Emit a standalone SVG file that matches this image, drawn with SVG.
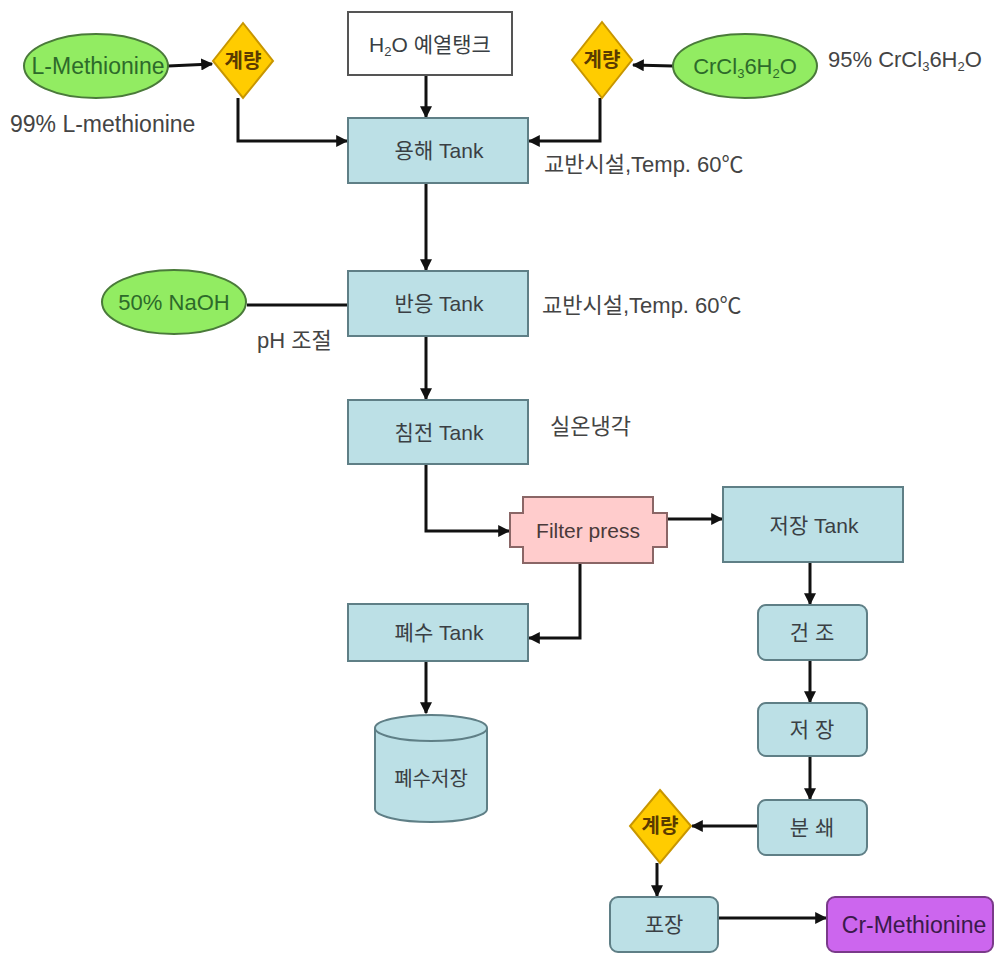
<svg xmlns="http://www.w3.org/2000/svg" width="995" height="953" viewBox="0 0 995 953">
<defs>
<marker id="ah" viewBox="0 0 10 10" refX="9" refY="5" markerWidth="4" markerHeight="4" orient="auto" markerUnits="strokeWidth">
<path d="M0,0 L10,5 L0,10 z" fill="#111"/>
</marker>
<style>
text{font-family:"Liberation Sans","Noto Sans CJK KR",sans-serif;}
.tank{fill:#BCE0E6;stroke:#5f7f86;stroke-width:2;}
.ell{fill:#92EC62;stroke:#4a7a3a;stroke-width:2;}
.dia{fill:#FFCC00;stroke:#C89600;stroke-width:2;}
.lbl{font-size:21px;fill:#3a3f44;text-anchor:middle;}
.elt{font-size:22px;fill:#2d6a2a;text-anchor:middle;}
.dt{font-size:20px;fill:#5a3a00;text-anchor:middle;font-weight:bold;}
.note{font-size:22px;fill:#444;}
.sub{font-size:13px;}
.con{fill:none;stroke:#111;stroke-width:3;}
.arr{fill:none;stroke:#111;stroke-width:3;marker-end:url(#ah);}
</style>
</defs>
<rect width="995" height="953" fill="#fff"/>

<g id="connectors">
<path class="arr" d="M168,66 L212,64"/>
<path class="arr" d="M238,98 L238,141 L347,141"/>
<path class="arr" d="M673,66 L633,65"/>
<path class="arr" d="M600,98 L600,141 L529,141"/>
<path class="arr" d="M426,75 L426,117"/>
<path class="arr" d="M426,183 L426,270"/>
<path class="con" d="M247,305 L348,305"/>
<path class="arr" d="M426,336 L426,399"/>
<path class="arr" d="M426,464 L426,531 L509,531"/>
<path class="arr" d="M667,519 L722,519"/>
<path class="arr" d="M580,563 L580,638 L529,638"/>
<path class="arr" d="M426,661 L426,713"/>
<path class="arr" d="M810,562 L810,604"/>
<path class="arr" d="M810,660 L810,702"/>
<path class="arr" d="M810,756 L810,799"/>
<path class="arr" d="M758,826 L692,826"/>
<path class="arr" d="M657,863 L657,896"/>
<path class="arr" d="M718,918 L826,918"/>
</g>

<g id="lmet">
<ellipse class="ell" cx="96" cy="66" rx="72" ry="32"/>
<text class="elt" x="98" y="74" style="font-size:23px">L-Methionine</text>
</g>
<text class="note" x="10" y="132" style="font-size:23px">99% L-methionine</text>

<g id="meter1">
<polygon class="dia" points="243,23 273,61 243,98 213,61"/>
<text class="dt" x="243" y="68">계량</text>
</g>

<g id="h2o">
<rect x="348" y="12" width="164" height="63" fill="#fff" stroke="#555" stroke-width="2"/>
<text class="lbl" x="430" y="52">H<tspan class="sub" dy="4">2</tspan><tspan dy="-4">O 예열탱크</tspan></text>
</g>

<g id="meter2">
<polygon class="dia" points="602,22 632,60 602,98 572,60"/>
<text class="dt" x="602" y="67">계량</text>
</g>

<g id="crcl">
<ellipse class="ell" cx="745" cy="66" rx="72" ry="32"/>
<text class="elt" x="745" y="74">CrCl<tspan class="sub" dy="4">3</tspan><tspan dy="-4">6H</tspan><tspan class="sub" dy="4">2</tspan><tspan dy="-4">O</tspan></text>
</g>
<text class="note" x="828" y="67">95% CrCl<tspan class="sub" dy="4">3</tspan><tspan dy="-4">6H</tspan><tspan class="sub" dy="4">2</tspan><tspan dy="-4">O</tspan></text>

<g id="dissolve">
<rect class="tank" x="348" y="118" width="180" height="65"/>
<text class="lbl" x="439" y="158">용해 Tank</text>
</g>
<text class="note" x="544" y="172">교반시설,Temp. 60℃</text>

<g id="naoh">
<ellipse class="ell" cx="174" cy="302" rx="72" ry="32"/>
<text class="elt" x="174" y="310">50% NaOH</text>
</g>
<text class="note" x="257" y="348">pH 조절</text>

<g id="react">
<rect class="tank" x="348" y="271" width="180" height="65"/>
<text class="lbl" x="439" y="311">반응 Tank</text>
</g>
<text class="note" x="542" y="313">교반시설,Temp. 60℃</text>

<g id="precip">
<rect class="tank" x="348" y="400" width="180" height="64"/>
<text class="lbl" x="439" y="440">침전 Tank</text>
</g>
<text class="note" x="550" y="434">실온냉각</text>

<g id="filter">
<path d="M523,497 L653,497 L653,513 L667,513 L667,547 L653,547 L653,563 L523,563 L523,547 L510,547 L510,513 L523,513 Z" fill="#FFCCCC" stroke="#8a6666" stroke-width="2"/>
<text class="lbl" x="588" y="538" style="fill:#4a3a3a">Filter press</text>
</g>

<g id="store">
<rect class="tank" x="723" y="487" width="180" height="75"/>
<text class="lbl" x="814" y="533">저장 Tank</text>
</g>

<g id="waste">
<rect class="tank" x="348" y="604" width="180" height="57"/>
<text class="lbl" x="439" y="640">폐수 Tank</text>
</g>

<g id="wastestore">
<path class="tank" d="M375,728 L375,809 A56,13 0 0 0 487,809 L487,728"/>
<ellipse class="tank" cx="431" cy="728" rx="56" ry="13"/>
<text class="lbl" x="431" y="786" style="font-size:20px">폐수저장</text>
</g>

<g id="dry">
<rect class="tank" x="758" y="605" width="109" height="55" rx="8"/>
<text class="lbl" x="812" y="640">건  조</text>
</g>

<g id="store2">
<rect class="tank" x="758" y="703" width="109" height="53" rx="8"/>
<text class="lbl" x="812" y="737">저  장</text>
</g>

<g id="grind">
<rect class="tank" x="758" y="800" width="109" height="55" rx="8"/>
<text class="lbl" x="812" y="835">분  쇄</text>
</g>

<g id="meter3">
<polygon class="dia" points="660,790 691,826 660,863 630,826"/>
<text class="dt" x="660" y="833">계량</text>
</g>

<g id="pack">
<rect class="tank" x="610" y="897" width="108" height="55" rx="8"/>
<text class="lbl" x="664" y="932">포장</text>
</g>

<g id="product">
<rect x="827" y="897" width="166" height="55" rx="8" fill="#CC66EE" stroke="#7a3a8a" stroke-width="2"/>
<text class="lbl" x="914" y="933" style="font-size:23px;fill:#3a1a4a">Cr-Methionine</text>
</g>
</svg>
